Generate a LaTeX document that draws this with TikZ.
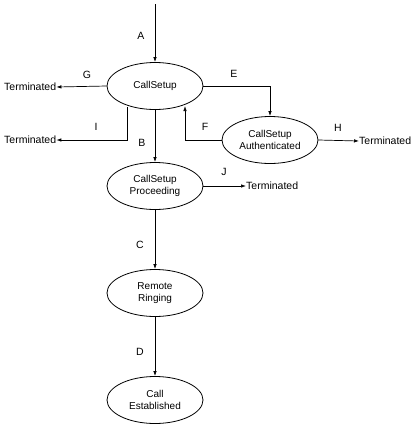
\documentclass[tikz,border=0pt]{standalone}
\usepackage{fontspec}
\setmainfont{Liberation Sans}
\usetikzlibrary{arrows.meta,shapes.geometric}
\begin{document}
\begin{tikzpicture}[x=1pt,y=-1pt,
  state/.style={draw,ellipse,minimum width=96pt,minimum height=47pt,inner sep=0pt,align=center,font=\fontsize{10}{12}\selectfont,line width=0.8pt},
  lbl/.style={font=\fontsize{10.5}{12}\selectfont},
  term/.style={font=\fontsize{10.5}{12}\selectfont,inner sep=0pt},
  arr/.style={-{Latex[length=5pt,width=3.5pt]},line width=0.7pt}]
\useasboundingbox (0,0) rectangle (420,424);
\node[state] (cs) at (155,86) {CallSetup};
\node[state] (auth) at (270,140) {CallSetup\\Authenticated};
\node[state] (proc) at (155,186) {CallSetup\\Proceeding};
\node[state] (ring) at (155,293) {Remote\\Ringing};
\node[state] (est) at (155,400) {Call\\Established};
\coordinate (top) at (155,4);
\node[term,anchor=west] (tG) at (4,87) {Terminated};
\node[term,anchor=west] (tI) at (4,140) {Terminated};
\node[term,anchor=west] (tH) at (359,141) {Terminated};
\node[term,anchor=west] (tJ) at (246,186) {Terminated};
\coordinate (iS) at (127,107);
\coordinate (fE) at (185,106);
\draw[arr] (top) -- (cs.north);
\draw[arr] (cs.west) -- (tG.east) ;
\draw[arr] (cs.east) -| (auth.north);
\draw[arr] (auth.west) -| (fE);
\draw[arr] (iS) |- (tI.east);
\draw[arr] (cs.south) -- (proc.north);
\draw[arr] (auth.east) -- (tH.west);
\draw[arr] (proc.east) -- (tJ.west);
\draw[arr] (proc.south) -- (ring.north);
\draw[arr] (ring.south) -- (est.north);
\node[lbl] (lA) at (141,36) {A};
\node[lbl] (lG) at (87,75) {G};
\node[lbl] (lE) at (234,74) {E};
\node[lbl] (lI) at (96,127) {I};
\node[lbl] (lB) at (142,143) {B};
\node[lbl] (lF) at (205,127) {F};
\node[lbl] (lH) at (338,128) {H};
\node[lbl] (lJ) at (224,172) {J};
\node[lbl] (lC) at (140,245) {C};
\node[lbl] (lD) at (140,352) {D};
\end{tikzpicture}
\end{document}
